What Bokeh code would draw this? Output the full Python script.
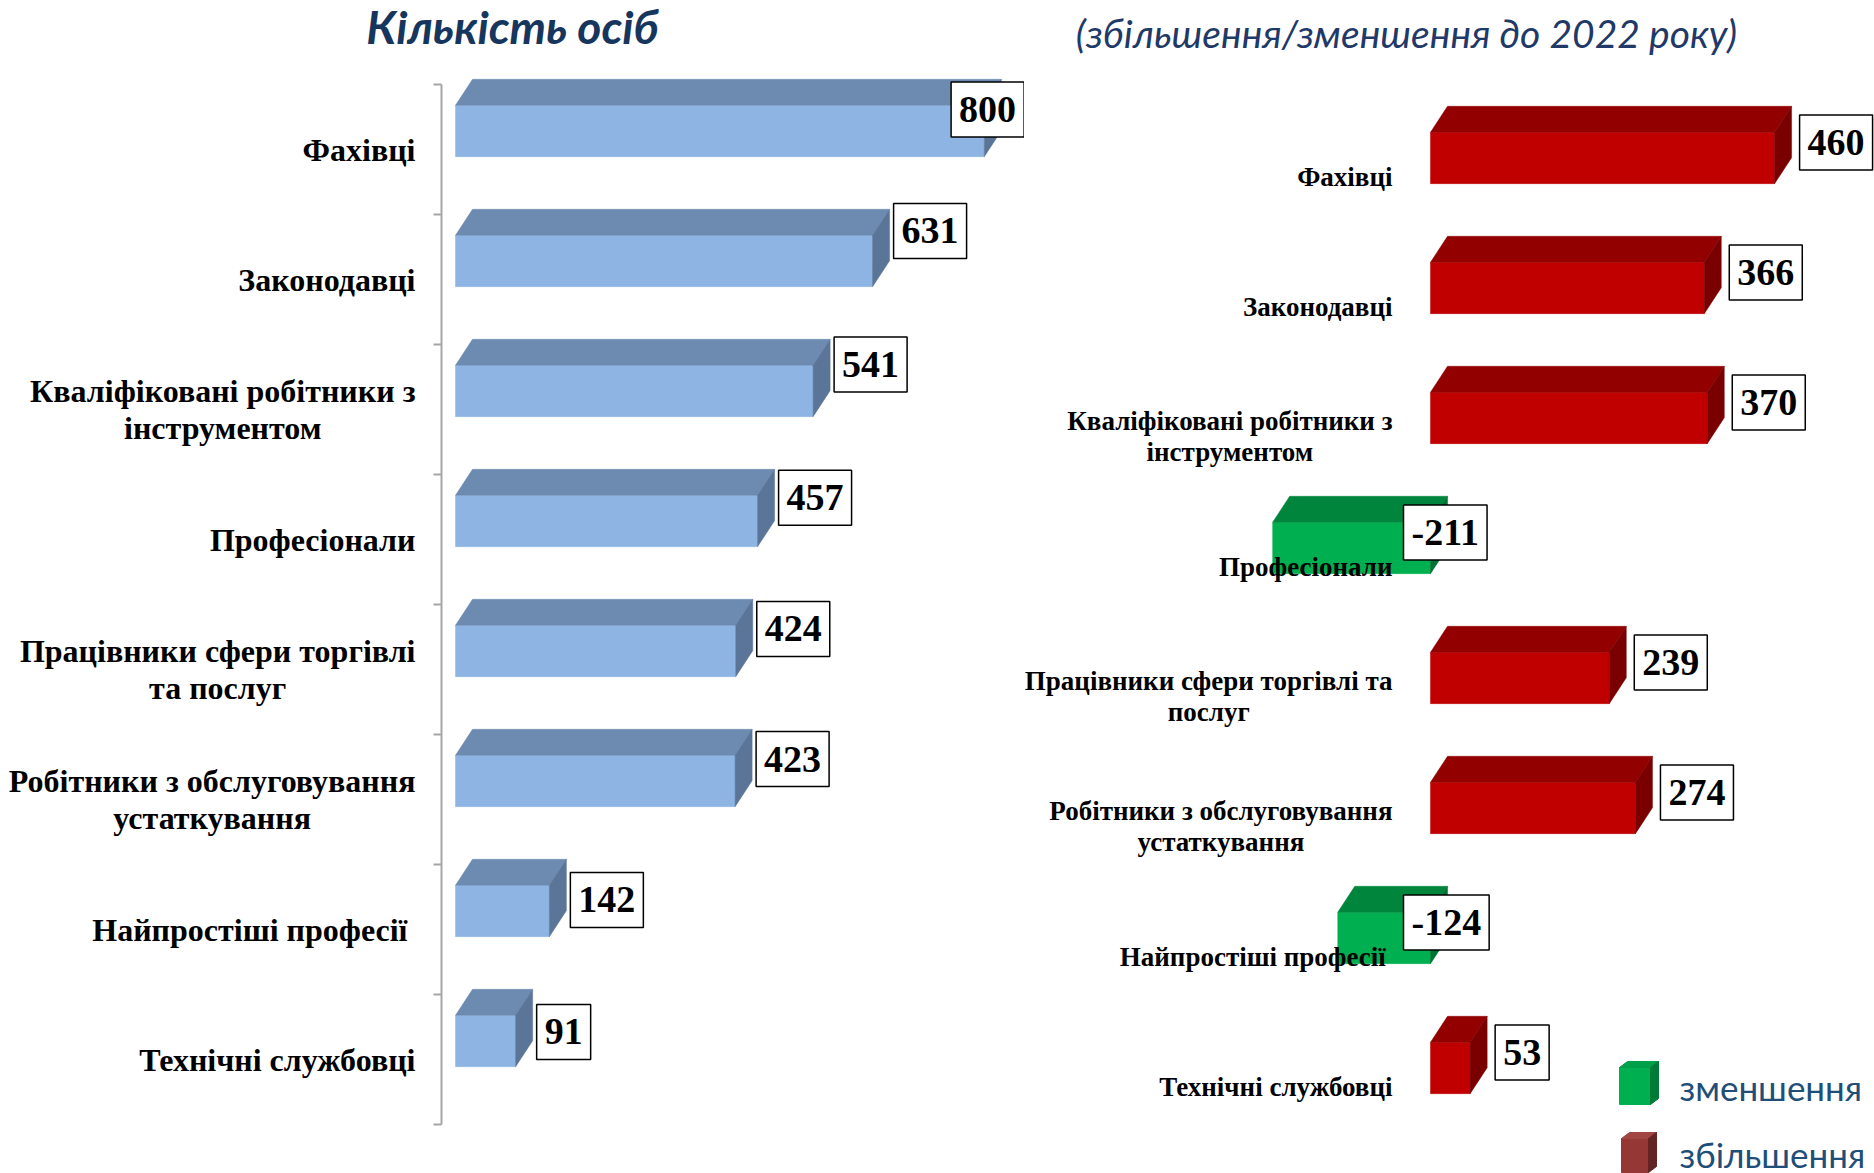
import numpy as np
from bokeh.plotting import figure
from bokeh.models import Range1d, FixedTicker, ColumnDataSource, CustomJSTickFormatter
from bokeh.layouts import row, column
from bokeh.core.properties import value
from bokeh.embed import file_html
from bokeh.resources import INLINE

# ---------------- data ----------------
left_categories = [
    "Фахівці",
    "Законодавці",
    "Кваліфіковані робітники з\nінструментом",
    "Професіонали",
    "Працівники сфери торгівлі\nта послуг",
    "Робітники з обслуговування\nустаткування",
    "Найпростіші професії ",
    "Технічні службовці",
]
left_values = [800, 631, 541, 457, 424, 423, 142, 91]

right_categories = [
    "Фахівці",
    "Законодавці",
    "Кваліфіковані робітники з\nінструментом",
    "Професіонали",
    "Працівники сфери торгівлі та\nпослуг",
    "Робітники з обслуговування\nустаткування",
    "Найпростіші професії ",
    "Технічні службовці",
]
right_values = [460, 366, 370, -211, 239, 274, -124, 53]

left_title = "Кількість осіб"
right_title = "(збільшення/зменшення до 2022 року)"
legend_labels = ["зменшення", "збільшення"]

# ---------------- layout / style (page pixels) ----------------
SERIF = "Liberation Serif"
SANS = "Lato"
TOTAL_W = 1874
HEADER_H = 62
CHART_H = 1111
SPLIT = 1024                  # page x where the right chart begins
LABEL_W = 433                 # left category-label strip
LEFT_W = SPLIT - LABEL_W      # left chart figure
RIGHT_W = TOTAL_W - SPLIT
LEFT_AXIS_PAGE = 441
LEFT_ZERO_PAGE, LEFT_PXU = 455, 0.661
RIGHT_ZERO_PAGE, RIGHT_PXU = 1430, 0.748
LEFT_BAND_TOP, RIGHT_BAND_TOP = 84, 111
BAND_PX = 130.0
FRONT_TOP, FRONT_BOT = 0.16, 0.555
DEPTH_X, DEPTH_Y = 17, 26

BLUE = ("#8DB4E2", "#6D8AB0", "#5B7598")
RED = ("#C00000", "#930000", "#7A0000")
GREEN = ("#00B050", "#00853C", "#007332")
LEG_GREEN = ("#00B050", "#00A048", "#007A37")
LEG_RED = ("#953735", "#A04542", "#632523")

VALUE_BOX = dict(text_align="left", text_baseline="middle", text_font=value(SERIF),
                 text_font_style="bold", text_font_size="38px", text_color="black",
                 border_line_color="black", border_line_width=1.5,
                 background_fill_color="white",
                 padding=dict(left=8, right=8, top=15, bottom=15))


def y_range_for(band_top_page):
    top = (HEADER_H - band_top_page) / BAND_PX
    bottom = (HEADER_H + CHART_H - band_top_page) / BAND_PX
    return Range1d(start=bottom, end=top)


def x_range_for(frame_left_page, frame_w, zero_page, pxu):
    return Range1d(start=(frame_left_page - zero_page) / pxu,
                   end=(frame_left_page + frame_w - zero_page) / pxu)


def bars3d(p, vals, pxu, colors):
    vals = np.asarray(vals, dtype=float)
    idx = np.arange(len(vals))
    x0 = np.minimum(vals, 0)
    x1 = np.maximum(vals, 0)
    yt = idx + FRONT_TOP
    yb = idx + FRONT_BOT
    dx = DEPTH_X / pxu
    dy = DEPTH_Y / BAND_PX
    front = [c[0] for c in colors]
    topc = [c[1] for c in colors]
    side = [c[2] for c in colors]
    p.quad(left=x0, right=x1, top=yt, bottom=yb, fill_color=front, line_color=front, line_width=0.5)
    p.patches(xs=[[a, b, b + dx, a + dx] for a, b in zip(x0, x1)],
              ys=[[t, t, t - dy, t - dy] for t in yt],
              fill_color=topc, line_color=topc, line_width=0.5)
    p.patches(xs=[[b, b, b + dx, b + dx] for b in x1],
              ys=[[bb, t, t - dy, bb - dy] for bb, t in zip(yb, yt)],
              fill_color=side, line_color=side, line_width=0.5)


def base_fig(**kw):
    p = figure(toolbar_location=None, output_backend="svg", outline_line_color=None,
               min_border=0, background_fill_color="white", **kw)
    p.grid.visible = False
    return p


n = len(left_categories)
idx = np.arange(n)

# ---------------- header (titles) ----------------
hdr = base_fig(width=TOTAL_W, height=HEADER_H, x_range=Range1d(0, TOTAL_W),
               y_range=Range1d(HEADER_H, 0), x_axis_location=None, y_axis_location=None)
hdr.text(x=[512], y=[26], text=[left_title], text_align="center",
         text_baseline="middle", text_font=value(SANS), text_font_style="bold italic",
         text_font_size="46px", text_color="#17365D")
hdr.text(x=[1406], y=[32], text=[right_title], text_align="center",
         text_baseline="middle", text_font=value(SANS), text_font_style="italic",
         text_font_size="39px", text_color="#1F3A68")

# ---------------- left category labels ----------------
pLab = base_fig(width=LABEL_W, height=CHART_H, x_range=Range1d(0, LABEL_W),
                y_range=y_range_for(LEFT_BAND_TOP), x_axis_location=None, y_axis_location=None)
pLab.text(x=np.full(n, 415.0), y=idx + 0.5, text=left_categories, anchor="center_right",
          text_align="center", text_baseline="middle", text_font=value(SERIF),
          text_font_style="bold", text_font_size="32px", text_color="black",
          text_line_height=1.02)

# ---------------- left chart ----------------
pL = base_fig(width=LEFT_W, height=CHART_H,
              x_range=x_range_for(LEFT_AXIS_PAGE, SPLIT - LEFT_AXIS_PAGE, LEFT_ZERO_PAGE, LEFT_PXU),
              y_range=y_range_for(LEFT_BAND_TOP),
              x_axis_location=None, y_axis_location="left")
pL.min_border_left = LEFT_AXIS_PAGE - LABEL_W
bars3d(pL, left_values, LEFT_PXU, [BLUE] * n)

ax = pL.yaxis[0]
ax.ticker = FixedTicker(ticks=[i + 0.5 for i in range(n)], minor_ticks=list(range(n + 1)))
ax.formatter = CustomJSTickFormatter(code="return ''")
ax.bounds = (0, n)
ax.axis_line_color = "#A6A6A6"
ax.axis_line_width = 2
ax.major_tick_line_color = None
ax.major_tick_out = 0
ax.major_tick_in = 0
ax.minor_tick_line_color = "#A6A6A6"
ax.minor_tick_line_width = 2
ax.minor_tick_out = 8
ax.minor_tick_in = 0
ax.major_label_standoff = 0

lv = np.asarray(left_values, dtype=float)
L_LABEL_CAP = 718
lx = np.minimum(lv, L_LABEL_CAP)
ldy = np.where(lv > L_LABEL_CAP, -40.0, -(24 + 0.039 * lv))
srcL = ColumnDataSource(dict(x=lx, y=idx + 0.5, text=[str(v) for v in left_values], dy=ldy))
pL.text(x="x", y="y", text="text", y_offset="dy", x_offset=21, source=srcL, **VALUE_BOX)

# ---------------- right chart ----------------
pR = base_fig(width=RIGHT_W, height=CHART_H,
              x_range=x_range_for(SPLIT, RIGHT_W, RIGHT_ZERO_PAGE, RIGHT_PXU),
              y_range=y_range_for(RIGHT_BAND_TOP),
              x_axis_location=None, y_axis_location=None)
rv = np.asarray(right_values, dtype=float)
bars3d(pR, right_values, RIGHT_PXU, [RED if v > 0 else GREEN for v in right_values])

srcRc = ColumnDataSource(dict(x=np.zeros(n), y=idx + 0.5, text=right_categories))
pR.text(x="x", y="y", text="text", source=srcRc, x_offset=-38, anchor="center_right",
        text_align="center", text_baseline="middle", text_font=value(SERIF),
        text_font_style="bold", text_font_size="27px", text_color="black",
        text_line_height=1.05)

srcRv = ColumnDataSource(dict(x=np.maximum(rv, 0), y=idx + 0.5,
                              text=[str(v) for v in right_values],
                              dx=np.where(rv > 0, 25, -27)))
pR.text(x="x", y="y", text="text", x_offset="dx", y_offset=-34, source=srcRv, **VALUE_BOX)


# ---------------- legend (3-D keys drawn like the bars) ----------------
def rx(px):
    return (px - RIGHT_ZERO_PAGE) / RIGHT_PXU


def ry(py):
    return (py - RIGHT_BAND_TOP) / BAND_PX


key_left = [1619, 1621]
key_front_right = [1650, 1648]
key_top = [1067, 1138]
key_bottom = [1104, 1172]
key_cols = [LEG_GREEN, LEG_RED]
kdx, kdy = 8, 6
for kl, kr, kt, kb, kc in zip(key_left, key_front_right, key_top, key_bottom, key_cols):
    pR.quad(left=[rx(kl)], right=[rx(kr)], top=[ry(kt)], bottom=[ry(kb)],
            fill_color=kc[0], line_color=kc[0])
    pR.patches(xs=[[rx(kl), rx(kr), rx(kr + kdx), rx(kl + kdx)]],
               ys=[[ry(kt), ry(kt), ry(kt - kdy), ry(kt - kdy)]],
               fill_color=kc[1], line_color=kc[1])
    pR.patches(xs=[[rx(kr), rx(kr), rx(kr + kdx), rx(kr + kdx)]],
               ys=[[ry(kb), ry(kt), ry(kt - kdy), ry(kb - kdy)]],
               fill_color=kc[2], line_color=kc[2])
pR.text(x=[rx(1679)] * 2, y=[ry(1086), ry(1153)], text=legend_labels, text_align="left",
        text_baseline="middle", text_font=value(SANS), text_font_size="35px",
        text_color="#1F4E79")

layout = column(hdr, row(pLab, pL, pR, spacing=0), spacing=0)
open("out.html", "w").write(file_html(layout, INLINE))
